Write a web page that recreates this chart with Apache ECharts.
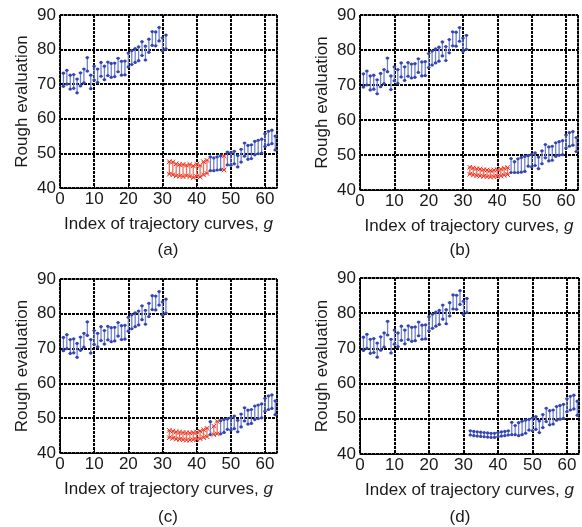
<!DOCTYPE html>
<html><head><meta charset="utf-8">
<script src="https://cdn.jsdelivr.net/npm/echarts@6/dist/echarts.min.js"></script>
<style>html,body{margin:0;padding:0;background:#fff}#c{width:582px;height:527px}</style>
</head><body><div id="c"></div>
<script>
// index of trajectory curves
const gIndex = [1,2,3,4,5,6,7,8,9,10,11,12,13,14,15,16,17,18,19,20,21,22,23,24,25,26,27,28,29,30,31,32,33,34,35,36,37,38,39,40,41,42,43,44,45,46,47,48,49,50,51,52,53,54,55,56,57,58,59,60,61,62,63];
// g = 1..31 (same in all four panels)
const upperLeft = [73.2,74.0,72.6,72.8,71.5,73.3,74.4,77.7,72.6,75.2,74.4,76.3,75.2,76.4,76.0,76.1,77.5,76.6,76.7,79.0,79.7,80.3,80.8,82.3,81.0,83.0,85.2,85.1,86.4,83.4,84.2];
const lowerLeft = [69.4,70.0,68.6,68.8,67.5,69.5,70.4,73.8,68.7,71.2,70.5,72.3,71.3,72.5,72.0,72.2,73.6,72.6,72.7,75.0,75.7,76.3,76.8,78.3,77.0,79.2,81.2,81.1,82.5,79.6,80.2];
// g = 32..63, per panel
const upperRightA = [47.6,47.5,47.0,46.8,46.8,46.6,46.8,46.4,46.9,46.5,47.6,48.0,49.0,48.7,49.0,49.3,49.3,50.4,50.2,50.6,49.4,51.2,53.0,52.3,52.5,53.5,53.8,54.1,55.7,56.4,56.7,55.0];
const lowerRightA = [44.0,43.8,43.5,43.4,43.3,43.5,43.3,43.0,43.3,43.2,43.8,44.2,45.0,45.0,45.2,45.3,45.2,46.7,46.6,47.0,46.1,47.5,49.2,48.3,48.5,49.6,49.9,50.1,52.0,52.5,52.8,51.0];
const redA = [32,33,34,35,36,37,38,39,40,41,42,43,48];
const upperRightB = [46.5,46.3,46.1,46.0,45.8,45.7,45.6,45.7,45.8,46.0,46.2,46.4,49.0,48.1,48.9,49.3,49.6,49.8,50.2,50.6,49.4,51.2,53.0,52.3,52.5,53.5,53.8,54.1,55.7,56.4,56.7,55.0];
const lowerRightB = [44.5,44.3,44.1,44.0,43.9,43.8,43.7,43.8,43.9,44.0,44.2,44.4,45.0,45.0,45.0,45.1,45.3,46.8,46.6,47.0,46.1,47.5,49.2,48.3,48.5,49.6,49.9,50.1,52.0,52.5,52.8,51.0];
const redB = [32,33,34,35,36,37,38,39,40,41,42,43];
const upperRightC = [46.5,46.3,46.1,46.0,45.9,45.8,45.8,45.9,46.0,46.3,46.7,47.1,49.0,47.7,49.1,49.3,49.6,49.8,50.2,50.6,49.4,51.2,53.0,52.3,52.5,53.5,53.8,54.1,55.7,56.4,56.7,55.0];
const lowerRightC = [44.4,44.2,44.0,43.9,43.8,43.7,43.7,43.8,43.9,44.1,44.4,44.7,45.3,45.3,45.5,45.5,45.9,46.8,46.6,47.0,46.1,47.5,49.2,48.3,48.5,49.6,49.9,50.1,52.0,52.5,52.8,51.0];
const redC = [32,33,34,35,36,37,38,39,40,41,42,43,45,46];
const upperRightD = [46.6,46.4,46.3,46.2,46.1,46.0,45.9,45.9,46.1,46.3,46.4,46.6,49.0,48.1,48.9,49.3,49.6,49.8,50.2,50.6,49.4,51.2,53.0,52.3,52.5,53.5,53.8,54.1,55.7,56.4,56.7,55.0];
const lowerRightD = [45.4,45.2,45.1,45.0,44.9,44.8,44.7,44.7,44.9,45.1,45.2,45.4,45.5,45.5,45.2,45.5,45.9,46.8,46.6,47.0,46.1,47.5,49.2,48.3,48.5,49.6,49.9,50.1,52.0,52.5,52.8,51.0];
const redD = [];
const yTicks = [40,50,60,70,80,90];
const xTicks = [0,10,20,30,40,50,60];
const panelLabels = ['(a)','(b)','(c)','(d)'];

const panels = [
  {up: upperRightA, lo: lowerRightA, red: redA, grid:{left:60, top:15, width:217, height:173}, lx:163, ly:247},
  {up: upperRightB, lo: lowerRightB, red: redB, grid:{left:360, top:15, width:218, height:175}, lx:455, ly:247},
  {up: upperRightC, lo: lowerRightC, red: redC, grid:{left:60, top:279, width:217, height:174}, lx:163, ly:514},
  {up: upperRightD, lo: lowerRightD, red: redD, grid:{left:360, top:278, width:219, height:176}, lx:455, ly:514}
];

const BLUE = '#3445ad', BLUE_L = '#6f80d4';
const RED = '#e8321f', RED_L = '#f07060';
const FONT = 'Liberation Sans, Arial, sans-serif';
const TXT = '#1a1a1a';

function render(kind){
  return function(params, api){
    const x = api.value(0);
    const p1 = api.coord([x, api.value(1)]);
    const p2 = api.coord([x, api.value(2)]);
    const mc = kind === 'red' ? RED : BLUE;
    const lc = kind === 'red' ? RED_L : BLUE_L;
    const cap = 2;
    const ch = [
      {type:'line', shape:{x1:p1[0], y1:p1[1], x2:p2[0], y2:p2[1]}, style:{stroke:lc, lineWidth:1.3}},
      {type:'line', shape:{x1:p1[0]-cap, y1:p1[1], x2:p1[0]+cap, y2:p1[1]}, style:{stroke:lc, lineWidth:1}},
      {type:'line', shape:{x1:p2[0]-cap, y1:p2[1], x2:p2[0]+cap, y2:p2[1]}, style:{stroke:lc, lineWidth:1}}
    ];
    [p1, p2].forEach(p => {
      if (kind === 'red') {
        const s = 2.3;
        ch.push({type:'line', shape:{x1:p[0]-s, y1:p[1]-s, x2:p[0]+s, y2:p[1]+s}, style:{stroke:mc, lineWidth:1}});
        ch.push({type:'line', shape:{x1:p[0]-s, y1:p[1]+s, x2:p[0]+s, y2:p[1]-s}, style:{stroke:mc, lineWidth:1}});
      } else {
        ch.push({type:'circle', shape:{cx:p[0], cy:p[1], r:1.6}, style:{fill:mc}});
      }
    });
    return {type:'group', children: ch};
  };
}

const option = {animation:false, grid:[], xAxis:[], yAxis:[], series:[], title:[]};
panels.forEach((pn, i) => {
  option.grid.push(Object.assign({show:true, borderColor:'#000', borderWidth:1, backgroundColor:'#fff'}, pn.grid));
  option.xAxis.push({
    type:'value', gridIndex:i, min:0, max:63.5, interval:10,
    name:'Index of trajectory curves, {i|g}', nameLocation:'middle', nameGap:28,
    nameTextStyle:{fontSize:17, color:TXT, fontFamily:FONT, rich:{i:{fontStyle:'italic', fontSize:17, color:TXT, fontFamily:FONT}}},
    axisLine:{show:true, onZero:false, lineStyle:{color:'#000', width:1}},
    axisTick:{show:true, inside:true, length:3, lineStyle:{color:'#000'}},
    axisLabel:{fontSize:17, color:TXT, fontFamily:FONT, margin:3, showMaxLabel:false,
      formatter: v => xTicks.indexOf(v) >= 0 ? String(v) : ''},
    splitLine:{show:true, lineStyle:{color:'#000', width:2, type:[3,1]}}
  });
  option.yAxis.push({
    type:'value', gridIndex:i, min:40, max:90, interval:10,
    name:'Rough evaluation', nameLocation:'middle', nameRotate:90, nameGap:29,
    nameTextStyle:{fontSize:17, color:TXT, fontFamily:FONT},
    axisLine:{show:true, onZero:false, lineStyle:{color:'#000', width:1}},
    axisTick:{show:true, inside:true, length:3, lineStyle:{color:'#000'}},
    axisLabel:{fontSize:17, color:TXT, fontFamily:FONT, margin:4,
      formatter: v => yTicks.indexOf(v) >= 0 ? String(v) : ''},
    splitLine:{show:true, lineStyle:{color:'#000', width:2, type:[3,1]}}
  });
  const blue = [], red = [];
  gIndex.forEach((g, k) => {
    const up = k < 31 ? upperLeft[k] : pn.up[k-31];
    const lo = k < 31 ? lowerLeft[k] : pn.lo[k-31];
    (pn.red.indexOf(g) >= 0 ? red : blue).push([g, lo, up]);
  });
  option.series.push({type:'custom', xAxisIndex:i, yAxisIndex:i, renderItem:render('blue'), data:blue, encode:{x:0, y:[1,2]}, clip:false});
  if (red.length) option.series.push({type:'custom', xAxisIndex:i, yAxisIndex:i, renderItem:render('red'), data:red, encode:{x:0, y:[1,2]}, clip:false});
  option.title.push({text:panelLabels[i], left:pn.lx, top:pn.ly - 10, textAlign:'center',
    textStyle:{fontSize:17, fontWeight:'normal', color:TXT, fontFamily:FONT}});
});
const chart = echarts.init(document.getElementById('c'), null, {renderer:'canvas'});
chart.setOption(option);
</script></body></html>
